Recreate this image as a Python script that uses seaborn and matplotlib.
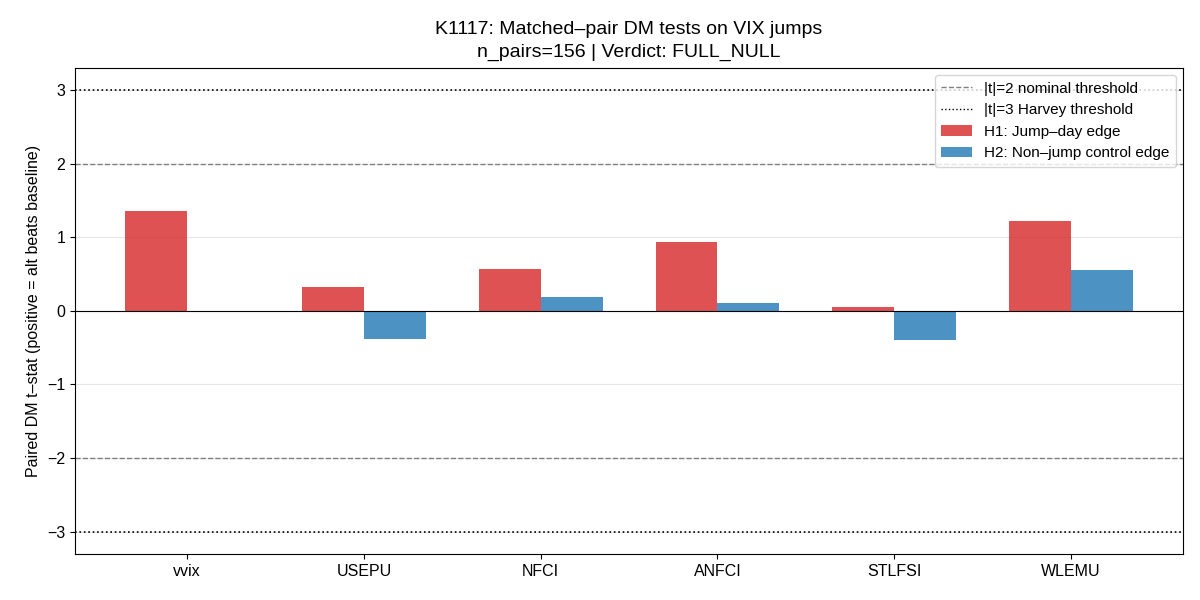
import numpy as np
import pandas as pd
import matplotlib
matplotlib.use("Agg")
import matplotlib.pyplot as plt
import seaborn as sns
from matplotlib.lines import Line2D
from matplotlib.patches import Patch

plt.rcParams['font.family'] = ['Liberation Sans', 'DejaVu Sans']

# data
indicators = ["vvix", "USEPU", "NFCI", "ANFCI", "STLFSI", "WLEMU"]
h1_tstat = [1.35, 0.32, 0.57, 0.93, 0.05, 1.22]
h2_tstat = [0.0, -0.38, 0.19, 0.10, -0.39, 0.56]
h1_label = "H1: Jump\u2013day edge"
h2_label = "H2: Non\u2013jump control edge"

df = pd.DataFrame({
    "indicator": indicators * 2,
    "t": h1_tstat + h2_tstat,
    "test": [h1_label] * len(indicators) + [h2_label] * len(indicators),
})

fig, ax = plt.subplots(figsize=(12, 6), dpi=100)

sns.barplot(data=df, x="indicator", y="t", hue="test", order=indicators,
            hue_order=[h1_label, h2_label],
            palette=["tab:red", "tab:blue"], saturation=1, alpha=0.8, width=0.7,
            legend=False, ax=ax)

ax.axhline(0, color="black", lw=0.8)
ax.axhline(2, color="gray", ls="--", lw=1)
ax.axhline(-2, color="gray", ls="--", lw=1)
ax.axhline(3, color="black", ls=":", lw=1.2)
ax.axhline(-3, color="black", ls=":", lw=1.2)

ax.set_xlim(-0.635, 5.635)
ax.set_ylim(-3.3, 3.3)
ax.yaxis.grid(True, alpha=0.3)
ax.set_axisbelow(True)
ax.set_xlabel("")
ax.set_ylabel("Paired DM t\u2013stat (positive = alt beats baseline)", fontsize=11.5)
ax.tick_params(labelsize=11.5)
ax.set_title("K1117: Matched\u2013pair DM tests on VIX jumps\nn_pairs=156 | Verdict: FULL_NULL",
             fontsize=14, linespacing=1.4, pad=8)

handles = [
    Line2D([0], [0], color="gray", ls="--", lw=1),
    Line2D([0], [0], color="black", ls=":", lw=1),
    Patch(facecolor="tab:red", alpha=0.8),
    Patch(facecolor="tab:blue", alpha=0.8),
]
labels = ["|t|=2 nominal threshold", "|t|=3 Harvey threshold", h1_label, h2_label]
ax.legend(handles, labels, loc="upper right", fontsize=11)

fig.subplots_adjust(left=0.0625, right=0.986, top=0.887, bottom=0.077)
plt.savefig("out.png", dpi=100)
